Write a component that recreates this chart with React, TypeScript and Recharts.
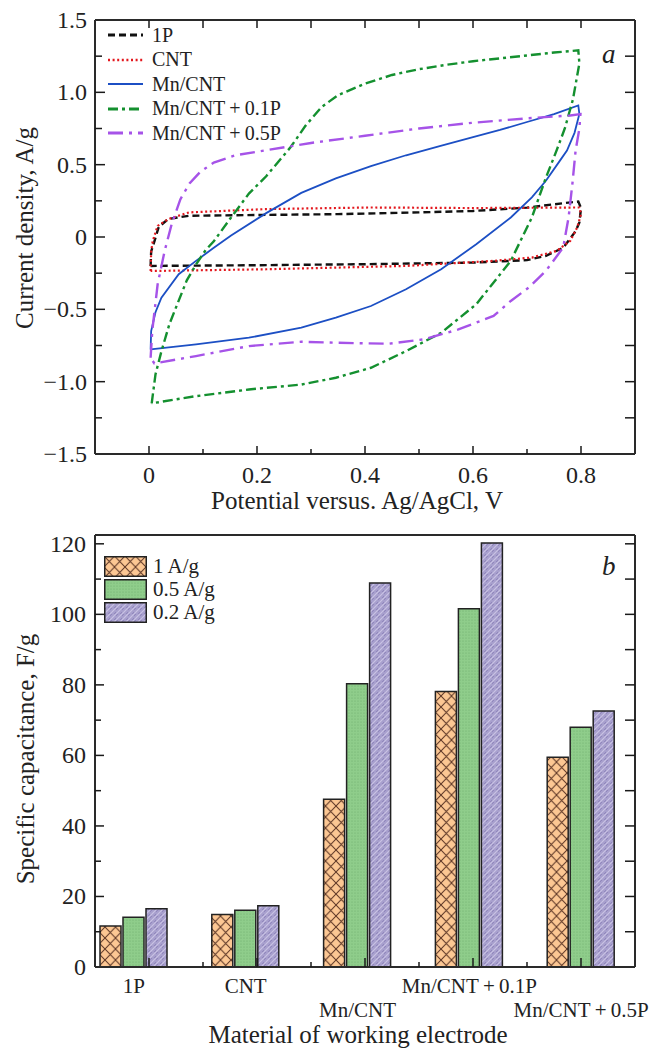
import React from "react";
import { LineChart, Line, BarChart, Bar, XAxis, YAxis, Legend, Label } from "recharts";

const FONT = '"Liberation Serif", "Times New Roman", Times, serif';
const INK = "#222";
const FRAME = "#2a2a2a";
const THIN = 0.01; // mirror axes only carry the top / right frame lines

// plot boxes (chart-local pixels), used only for inward tick marks
const CV = { w: 656, h: 520, left: 95, right: 635, top: 20, bottom: 454 };
const CAP = { w: 656, h: 532, left: 95, right: 635, top: 15, bottom: 447 };

// panel a: CV loops, [E vs Ag/AgCl (V), j (A/g)] - forward sweep, then back
const cv1P: [number, number][] = [
  [0.003, -0.2], [0.004, -0.1], [0.01, -0.03], [0.018, 0.07], [0.036, 0.125], [0.074, 0.147],
  [0.2, 0.152], [0.35, 0.158], [0.5, 0.17], [0.6, 0.18], [0.7, 0.203], [0.77, 0.235], [0.795, 0.245],
  [0.8, 0.2], [0.797, 0.1], [0.79, 0.04], [0.767, -0.075], [0.735, -0.13], [0.7, -0.16],
  [0.6, -0.177], [0.4, -0.188], [0.2, -0.195], [0.003, -0.2],
];
const cvCNT: [number, number][] = [
  [0.003, -0.235], [0.004, -0.1], [0.007, -0.027], [0.016, 0.077], [0.036, 0.124], [0.074, 0.17],
  [0.217, 0.193], [0.41, 0.204], [0.6, 0.2], [0.797, 0.204], [0.8, 0.158], [0.793, 0.066],
  [0.78, -0.027], [0.755, -0.096], [0.709, -0.142], [0.638, -0.165], [0.476, -0.2],
  [0.217, -0.223], [0.003, -0.235],
];
const cvMn: [number, number][] = [
  [0.003, -0.777], [0.004, -0.65], [0.012, -0.52], [0.023, -0.42], [0.055, -0.257], [0.087, -0.165],
  [0.12, -0.075], [0.152, 0.01], [0.217, 0.165], [0.282, 0.305], [0.346, 0.405], [0.411, 0.49],
  [0.476, 0.565], [0.54, 0.63], [0.6, 0.69], [0.65, 0.74], [0.7, 0.795], [0.75, 0.85], [0.795, 0.91],
  [0.797, 0.85], [0.788, 0.72], [0.774, 0.597], [0.761, 0.528], [0.735, 0.389], [0.709, 0.274],
  [0.67, 0.135], [0.606, -0.05], [0.541, -0.223], [0.476, -0.361], [0.411, -0.477], [0.346, -0.558],
  [0.282, -0.627], [0.185, -0.696], [0.087, -0.742], [0.003, -0.777],
];
const cvMn01: [number, number][] = [
  [0.005, -1.15], [0.012, -0.95], [0.023, -0.79], [0.038, -0.6], [0.055, -0.44], [0.07, -0.3],
  [0.087, -0.19], [0.105, -0.09], [0.12, -0.03], [0.152, 0.135], [0.185, 0.3], [0.217, 0.42],
  [0.262, 0.62], [0.29, 0.77], [0.32, 0.9], [0.35, 0.98], [0.4, 1.06], [0.45, 1.12], [0.5, 1.16],
  [0.55, 1.19], [0.6, 1.215], [0.65, 1.235], [0.7, 1.255], [0.75, 1.275], [0.795, 1.29],
  [0.797, 1.2], [0.785, 0.95], [0.77, 0.75], [0.755, 0.6], [0.735, 0.41], [0.709, 0.135],
  [0.67, -0.165], [0.606, -0.465], [0.541, -0.662], [0.476, -0.789], [0.411, -0.904],
  [0.346, -0.973], [0.282, -1.02], [0.185, -1.054], [0.087, -1.1], [0.005, -1.15],
];
const cvMn05: [number, number][] = [
  [0.003, -0.835], [0.006, -0.65], [0.016, -0.327], [0.029, -0.096], [0.042, 0.089], [0.058, 0.26],
  [0.075, 0.37], [0.095, 0.45], [0.12, 0.515], [0.16, 0.565], [0.217, 0.6], [0.3, 0.65], [0.4, 0.7],
  [0.5, 0.75], [0.6, 0.79], [0.7, 0.82], [0.78, 0.84], [0.799, 0.85], [0.797, 0.75], [0.79, 0.597],
  [0.784, 0.366], [0.777, 0.135], [0.767, -0.073], [0.735, -0.234], [0.703, -0.35], [0.67, -0.442],
  [0.638, -0.546], [0.573, -0.639], [0.508, -0.708], [0.444, -0.738], [0.346, -0.731],
  [0.282, -0.724], [0.185, -0.754], [0.087, -0.823], [0.01, -0.874], [0.003, -0.835],
];

// every 0.1 V (labels on even steps), every 0.25 A/g (labels on 0.5 steps)
const eTicks = [0, 0.1, 0.2, 0.3, 0.4, 0.5, 0.6, 0.7, 0.8];
const jTicks = [-1.5, -1.25, -1, -0.75, -0.5, -0.25, 0, 0.25, 0.5, 0.75, 1, 1.25, 1.5];

const cvSeries = [
  { name: "1P", data: cv1P, color: "#111111", dash: "7 4", width: 2.4 },
  { name: "CNT", data: cvCNT, color: "#e3171d", dash: "2 2.6", width: 2.2 },
  { name: "Mn/CNT", data: cvMn, color: "#1c4fc4", dash: undefined, width: 1.8 },
  { name: "Mn/CNT\u2009+\u20090.1P", data: cvMn01, color: "#14902f", dash: "10 4 3 4", width: 2.4 },
  { name: "Mn/CNT\u2009+\u20090.5P", data: cvMn05, color: "#a653e8", dash: "15 6 3 6", width: 2.4 },
].map((s) => ({ ...s, points: s.data.map(([e, j]) => ({ e, j })) }));

// panel b: specific capacitance, F/g
const materials = ["1P", "CNT", "Mn/CNT", "Mn/CNT\u2009+\u20090.1P", "Mn/CNT\u2009+\u20090.5P"];
const cap1 = [11.6, 14.9, 47.6, 78.1, 59.5];
const cap05 = [14.1, 16.1, 80.3, 101.6, 68.0];
const cap02 = [16.5, 17.4, 108.9, 120.2, 72.6];
const capTicks = [0, 10, 20, 30, 40, 50, 60, 70, 80, 90, 100, 110, 120];

const barSeries = [
  { key: "c1", name: "1 A/g", fill: "url(#hatchOrange)" },
  { key: "c05", name: "0.5 A/g", fill: "url(#dotGreen)" },
  { key: "c02", name: "0.2 A/g", fill: "url(#mottlePurple)" },
];

const capData = materials.map((name, i) => ({ name, c1: cap1[i], c05: cap05[i], c02: cap02[i] }));

const fmtE = (v: number) => (v === 0 ? "0" : v.toFixed(1));
const fmtJ = (v: number) => (v === 0 ? "0" : (v < 0 ? "\u2212" : "") + Math.abs(v).toFixed(1));

const frameLine = { stroke: FRAME, strokeWidth: 2 };
const tk = { stroke: "#1a1a1a", strokeWidth: 1.5 };
const txt = { fill: INK, fontFamily: FONT };

function CvXTick(props: any) {
  const { x, payload } = props;
  const v = payload.value;
  const major = Math.round(v * 10) % 2 === 0;
  return (
    <g>
      <line x1={x} x2={x} y1={CV.bottom} y2={CV.bottom - (major ? 8 : 5)} {...tk} />
      <line x1={x} x2={x} y1={CV.top} y2={CV.top + 8} {...tk} />
      {major && (
        <text x={x} y={CV.bottom + 29} textAnchor="middle" fontSize={24} {...txt}>{fmtE(v)}</text>
      )}
    </g>
  );
}

function CvYTick(props: any) {
  const { y, payload } = props;
  const v = payload.value;
  const major = Math.round(v * 4) % 2 === 0;
  const edge = Math.abs(v) > 1.4;
  return (
    <g>
      {!edge && <line x1={CV.left} x2={CV.left + (major ? 10 : 7)} y1={y} y2={y} {...tk} />}
      {!edge && <line x1={CV.right - 10} x2={CV.right} y1={y} y2={y} {...tk} />}
      {major && (
        <text x={CV.left - 8} y={y + 8} textAnchor="end" fontSize={24} {...txt}>{fmtJ(v)}</text>
      )}
    </g>
  );
}

function CapYTick(props: any) {
  const { y, payload } = props;
  const v = payload.value;
  const major = v % 20 === 0;
  return (
    <g>
      {v > 0 && <line x1={CAP.left} x2={CAP.left + (major ? 9 : 6)} y1={y} y2={y} {...tk} />}
      {v > 0 && <line x1={CAP.right - 10} x2={CAP.right} y1={y} y2={y} {...tk} />}
      {major && (
        <text x={CAP.left - 9} y={y + 8} textAnchor="end" fontSize={24} {...txt}>{v}</text>
      )}
    </g>
  );
}

function MaterialTick(props: any) {
  const { x, payload, index } = props;
  const low = index === 2 || index === 4;
  const step = (CAP.right - CAP.left) / materials.length;
  const major = CAP.left + step * (index + 0.5);
  const minor = CAP.left + step * (index + 1);
  return (
    <g>
      <line x1={major} x2={major} y1={CAP.bottom} y2={CAP.bottom - 9} {...tk} />
      {index < materials.length - 1 && <line x1={minor} x2={minor} y1={CAP.bottom} y2={CAP.bottom - 5} {...tk} />}
      <text x={x} y={CAP.bottom + (low ? 50 : 26)} textAnchor="middle" fontSize={21} {...txt}>
        {payload.value}
      </text>
    </g>
  );
}

function CvLegend() {
  return (
    <div style={{ fontFamily: FONT, fontSize: 20, color: INK }}>
      {cvSeries.map((s) => (
        <div key={s.name} style={{ display: "flex", alignItems: "center", height: 24.5 }}>
          <svg width={37} height={10}>
            <line x1={1} y1={5} x2={36} y2={5} stroke={s.color} strokeWidth={s.width + 0.4} strokeDasharray={s.dash} />
          </svg>
          <span style={{ marginLeft: 8, whiteSpace: "nowrap", fontFamily: FONT }}>{s.name}</span>
        </div>
      ))}
    </div>
  );
}

function CapLegend() {
  return (
    <div style={{ fontFamily: FONT, fontSize: 21, color: INK }}>
      {barSeries.map((s) => (
        <div key={s.key} style={{ display: "flex", alignItems: "center", height: 23 }}>
          <svg width={43} height={21}>
            <rect x={0.75} y={0.75} width={41.5} height={19.5} fill={s.fill} stroke={INK} strokeWidth={1.5} />
          </svg>
          <span style={{ marginLeft: 6, whiteSpace: "nowrap", fontFamily: FONT }}>{s.name}</span>
        </div>
      ))}
    </div>
  );
}

const xTitle = (text: string, dx: number, dy: number) => (p: any) => {
  const vb = p.viewBox;
  return (
    <text x={vb.x + vb.width / 2 + dx} y={vb.y + dy} textAnchor="middle" fontSize={25} {...txt}>
      {text}
    </text>
  );
};

const yTitle = (text: string, x: number, dy: number) => (p: any) => {
  const vb = p.viewBox;
  const cy = vb.y + vb.height / 2 + dy;
  return (
    <text x={x} y={cy} transform={`rotate(-90, ${x}, ${cy})`} textAnchor="middle" fontSize={25} {...txt}>
      {text}
    </text>
  );
};

const panelLetter = (text: string, dy: number) => (p: any) => {
  const vb = p.viewBox;
  return (
    <text x={vb.x + vb.width - 33} y={vb.y + dy} fontStyle="italic" fontSize={27} {...txt}>
      {text}
    </text>
  );
};

function CvChart() {
  return (
    <LineChart width={CV.w} height={CV.h} data={cvSeries[0].points}
      margin={{ top: CV.top, right: CV.w - CV.right, bottom: 0, left: 0 }} style={{ fontFamily: FONT }}>
      <XAxis xAxisId="e" type="number" dataKey="e" domain={[-0.1, 0.9]} allowDataOverflow ticks={eTicks}
        interval={0} tickLine={false} tickSize={0} tickMargin={0} height={CV.h - CV.bottom}
        axisLine={frameLine} tick={<CvXTick />}>
        <Label content={xTitle("Potential versus. Ag/AgCl, V", -8, 55)} />
      </XAxis>
      <XAxis xAxisId="eTop" orientation="top" type="number" dataKey="e" domain={[-0.1, 0.9]} allowDataOverflow
        ticks={[0]} interval={0} mirror height={THIN} tick={false} tickLine={false} axisLine={frameLine}>
        <Label content={panelLetter("a", 43)} />
      </XAxis>
      <YAxis yAxisId="j" type="number" dataKey="j" domain={[-1.5, 1.5]} allowDataOverflow ticks={jTicks}
        interval={0} tickLine={false} tickSize={0} tickMargin={0} width={CV.left} axisLine={frameLine}
        tick={<CvYTick />}>
        <Label content={yTitle("Current density, A/g", 33, -9)} />
      </YAxis>
      <YAxis yAxisId="jR" orientation="right" type="number" dataKey="j" domain={[-1.5, 1.5]} allowDataOverflow
        ticks={[0]} interval={0} mirror width={THIN} tick={false} tickLine={false} axisLine={frameLine} />
      <Legend layout="vertical" align="center" verticalAlign="middle" wrapperStyle={{ left: 107, top: 23 }}
        content={() => <CvLegend />} />
      {cvSeries.map((s) => (
        <Line key={s.name} xAxisId="e" yAxisId="j" name={s.name} type="linear" data={s.points} dataKey="j"
          stroke={s.color} strokeWidth={s.width} strokeDasharray={s.dash} dot={false} activeDot={false}
          isAnimationActive={false} />
      ))}
    </LineChart>
  );
}

function CapChart() {
  return (
    <BarChart width={CAP.w} height={CAP.h} data={capData}
      margin={{ top: CAP.top, right: CAP.w - CAP.right, bottom: 0, left: 0 }}
      barSize={21} barGap={2} style={{ fontFamily: FONT }}>
      <defs>
        <pattern id="hatchOrange" width="10.5" height="11" patternUnits="userSpaceOnUse">
          <rect width="10.5" height="11" fill="#fcc793" />
          <path d="M0,0 L10.5,11 M10.5,0 L0,11" stroke="#5a3424" strokeWidth="1" />
        </pattern>
        <pattern id="dotGreen" width="3" height="3" patternUnits="userSpaceOnUse">
          <rect width="3" height="3" fill="#8fcd8b" />
          <circle cx="1" cy="1" r="0.6" fill="#6fae6c" />
        </pattern>
        <pattern id="mottlePurple" width="6" height="6" patternUnits="userSpaceOnUse">
          <rect width="6" height="6" fill="#a79fcd" />
          <path d="M0,6 L6,0" stroke="#c9c2e4" strokeWidth="1.2" />
          <path d="M-1,3 L3,-1 M3,7 L7,3" stroke="#8b82b8" strokeWidth="0.8" />
        </pattern>
      </defs>
      <XAxis xAxisId="mat" dataKey="name" type="category" padding={{ left: -17, right: -2 }} interval={0}
        tickLine={false} tickSize={0} tickMargin={0} height={CAP.h - CAP.bottom} axisLine={frameLine}
        tick={<MaterialTick />}>
        <Label content={xTitle("Material of working electrode", -7, 76)} />
      </XAxis>
      <XAxis xAxisId="mTop" orientation="top" dataKey="name" type="category" interval={0} mirror height={THIN}
        tick={false} tickLine={false} axisLine={frameLine}>
        <Label content={panelLetter("b", 40)} />
      </XAxis>
      <YAxis yAxisId="c" type="number" domain={[0, 122.5]} allowDataOverflow ticks={capTicks} interval={0}
        tickLine={false} tickSize={0} tickMargin={0} width={CAP.left} axisLine={frameLine} tick={<CapYTick />}>
        <Label content={yTitle("Specific capacitance, F/g", 34, 8)} />
      </YAxis>
      <YAxis yAxisId="cR" orientation="right" type="number" dataKey="c1" domain={[0, 122.5]} allowDataOverflow
        ticks={[0]} interval={0} mirror width={THIN} tick={false} tickLine={false} axisLine={frameLine} />
      <Legend layout="vertical" align="center" verticalAlign="middle" wrapperStyle={{ left: 104, top: 34.5 }}
        content={() => <CapLegend />} />
      {barSeries.map((s) => (
        <Bar key={s.key} xAxisId="mat" yAxisId="c" dataKey={s.key} name={s.name} fill={s.fill}
          stroke={INK} strokeWidth={1.5} isAnimationActive={false} />
      ))}
    </BarChart>
  );
}

export default function App() {
  return (
    <div style={{ position: "absolute", left: 0, top: 0, width: 656, height: 1052, background: "#fff", fontFamily: FONT }}>
      <CvChart />
      <CapChart />
    </div>
  );
}
